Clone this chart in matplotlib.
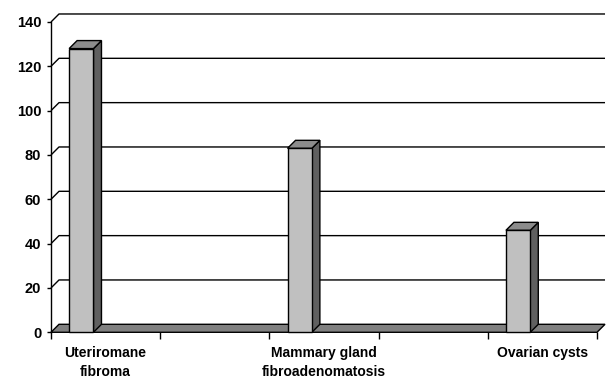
import matplotlib
matplotlib.use("Agg")
import matplotlib.pyplot as plt
from matplotlib.patches import Polygon
import numpy as np

# data (5 category slots, only 3 carry bars/labels)
categories = ["Uteriromane\nfibroma", "", "Mammary gland\nfibroadenomatosis", "", "Ovarian cysts"]
values = [128, None, 83, None, 46]
y_ticks = [0, 20, 40, 60, 80, 100, 120, 140]

plt.rcParams['font.family'] = ['Liberation Sans', 'DejaVu Sans']

fig = plt.figure(figsize=(6.10, 3.83), dpi=100)
ax = fig.add_axes([0.0836, 0.1324, 0.8951, 0.8102])
n = len(categories)
ymax = y_ticks[-1]
ax.set_xlim(0, n)
ax.set_ylim(0, ymax)

# depth offset of the 3d look, ~8 px each way
px_x = n / (0.8951 * 610)
px_y = ymax / (0.8102 * 383)
dx, dy = 8 * px_x, 8 * px_y

front = '#c0c0c0'
side = '#606060'
top = '#8c8c8c'
floor_c = '#808080'

# back wall gridlines + side wall diagonals
for v in y_ticks[1:]:
    ax.plot([0, dx, n + dx], [v, v + dy, v + dy], color='black', lw=1.0,
            clip_on=False, zorder=1, solid_capstyle='butt')

# floor
ax.add_patch(Polygon([(0, 0), (n, 0), (n + dx, dy), (dx, dy)], closed=True,
                     facecolor=floor_c, edgecolor='black', lw=1.0,
                     clip_on=False, zorder=2))

# bars
bw = 0.223
off = 0.166
for i, v in enumerate(values):
    if v is None:
        continue
    x0 = i + off
    x1 = x0 + bw
    ax.add_patch(Polygon([(x1, 0), (x1 + dx, dy), (x1 + dx, v + dy), (x1, v)],
                         closed=True, facecolor=side, edgecolor='black', lw=1.0,
                         clip_on=False, zorder=3))
    ax.add_patch(Polygon([(x0, v), (x1, v), (x1 + dx, v + dy), (x0 + dx, v + dy)],
                         closed=True, facecolor=top, edgecolor='black', lw=1.0,
                         clip_on=False, zorder=3))
    ax.add_patch(Polygon([(x0, 0), (x1, 0), (x1, v), (x0, v)], closed=True,
                         facecolor=front, edgecolor='black', lw=1.0,
                         clip_on=False, zorder=4))

for s in ['top', 'right', 'bottom']:
    ax.spines[s].set_visible(False)
ax.spines['left'].set_linewidth(1.0)
ax.spines['left'].set_zorder(0)

ax.set_yticks(y_ticks)
ax.set_yticklabels([str(t) for t in y_ticks], fontsize=10.5, fontweight='bold')
ax.tick_params(axis='y', length=3, width=1.0, pad=4)

ax.set_xticks(np.arange(n + 1))
ax.set_xticklabels([])
ax.tick_params(axis='x', which='major', length=5, width=1.0)
ax.set_xticks(np.arange(n) + 0.5, minor=True)
ax.set_xticklabels(categories, minor=True, fontsize=10, fontweight='bold',
                   linespacing=1.45, va='top')
ax.tick_params(axis='x', which='minor', length=0, pad=10)

fig.savefig('out.png', dpi=100)
